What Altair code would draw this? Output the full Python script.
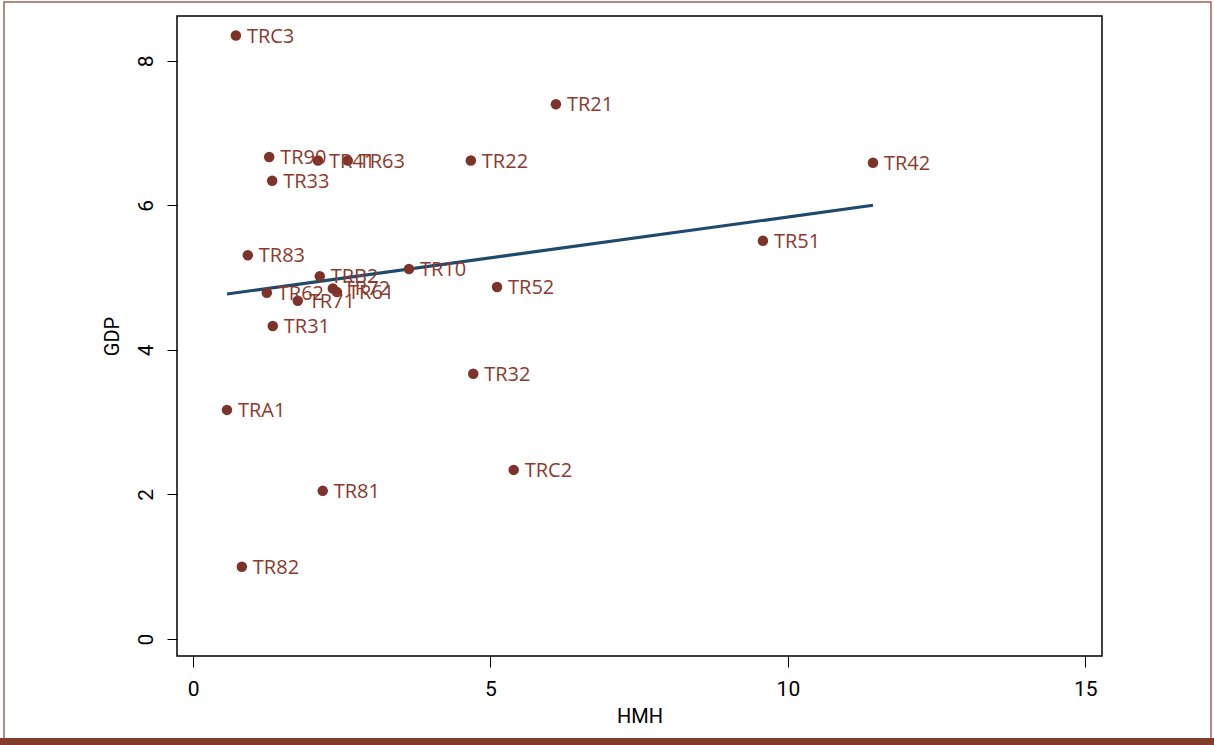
import altair as alt
import pandas as pd

# Region codes with HMH and GDP values
regions = ["TRC3", "TR21", "TR90", "TR41", "TR63", "TR22", "TR42", "TR33", "TR51",
           "TR83", "TRB2", "TR10", "TR52", "TR62", "TR72", "TR61", "TR71", "TR31",
           "TR32", "TRA1", "TRC2", "TR81", "TR82"]
hmh = [0.72, 6.10, 1.28, 2.10, 2.60, 4.67, 11.43, 1.33, 9.58,
       0.92, 2.13, 3.63, 5.11, 1.24, 2.35, 2.42, 1.76, 1.34,
       4.71, 0.57, 5.39, 2.18, 0.82]
gdp = [8.35, 7.40, 6.67, 6.62, 6.62, 6.62, 6.59, 6.34, 5.51,
       5.31, 5.02, 5.12, 4.87, 4.79, 4.85, 4.80, 4.68, 4.33,
       3.67, 3.17, 2.34, 2.05, 1.00]

df = pd.DataFrame({"region": regions, "HMH": hmh, "GDP": gdp})

point_color = "#7d3329"
label_color = "#8a3a2e"
line_color = "#1f4a6b"
frame_color = "#8a3a2e"
tick_font = "Liberation Sans Narrow, Roboto, sans-serif"

x_scale = alt.Scale(domain=[-0.27, 15.28], nice=False, zero=False)
y_scale = alt.Scale(domain=[-0.235, 8.62], nice=False, zero=False)

x_enc = alt.X("HMH:Q", scale=x_scale, title="HMH",
              axis=alt.Axis(values=[0, 5, 10, 15], format="d", grid=False, domain=False,
                            tickSize=11, tickColor="black", tickWidth=1,
                            labelFontSize=21, labelFont=tick_font, labelPadding=11,
                            labelColor="black", titleFont=tick_font,
                            titleFontSize=20, titleFontWeight="normal",
                            titlePadding=7, titleColor="black"))
y_enc = alt.Y("GDP:Q", scale=y_scale, title="GDP",
              axis=alt.Axis(values=[0, 2, 4, 6, 8], format="d", grid=False, domain=False,
                            tickSize=10, tickColor="black", tickWidth=1,
                            labelFontSize=21, labelFont=tick_font, labelAngle=270,
                            labelAlign="center", labelBaseline="bottom",
                            labelPadding=11, labelColor="black",
                            titleFont=tick_font, titleFontSize=20,
                            titleFontWeight="normal", titlePadding=13,
                            titleColor="black"))

base = alt.Chart(df)

points = base.mark_circle(size=110, opacity=1, color=point_color).encode(x=x_enc, y=y_enc)

labels = base.mark_text(align="left", baseline="middle", dx=11, dy=1,
                        fontSize=20, font="Open Sans", color=label_color).encode(
    x=alt.X("HMH:Q", scale=x_scale), y=alt.Y("GDP:Q", scale=y_scale), text="region:N")

fit = base.transform_regression("HMH", "GDP").mark_line(
    color=line_color, strokeWidth=3.2).encode(
    x=alt.X("HMH:Q", scale=x_scale), y=alt.Y("GDP:Q", scale=y_scale))

# Decorative page frame: thin outline plus a heavy bar along the bottom
outline = alt.Chart(pd.DataFrame({"k": [0]})).mark_rect(
    fill=None, stroke=frame_color, strokeWidth=1.5, strokeOpacity=0.8).encode(
    x=alt.value(-173), x2=alt.value(1034), y=alt.value(-14), y2=alt.value(724))
bottom_bar = alt.Chart(pd.DataFrame({"k": [0]})).mark_rect(
    color="#843c2c").encode(
    x=alt.value(-177), x2=alt.value(1037), y=alt.value(722), y2=alt.value(729))

chart = alt.layer(outline, bottom_bar, fit, points, labels).properties(
    width=925, height=640,
    autosize=alt.AutoSizeParams(type="none"),
    padding={"left": 177, "top": 16, "right": 112, "bottom": 89},
    background="white",
).configure_view(stroke="black", strokeWidth=1.5)

chart.save("out.html", embed_options={"renderer": "svg", "actions": False})
